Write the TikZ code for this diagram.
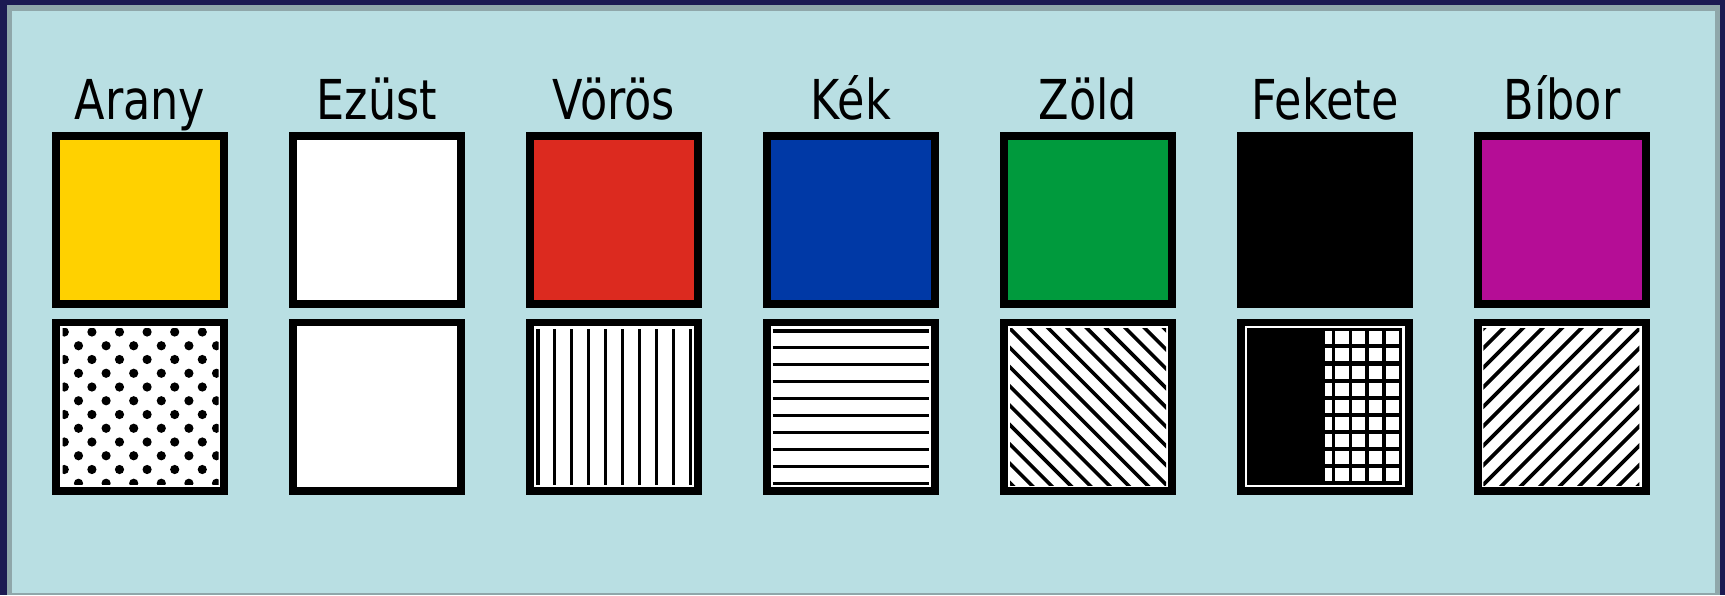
\documentclass[tikz,border=0pt]{standalone}
\usepackage{fontspec}
\newfontfamily\lblfont[FakeStretch=0.81]{DejaVu Sans}
\definecolor{framedark}{HTML}{1C1A52}
\definecolor{framegray}{HTML}{8FA7AA}
\definecolor{bgblue}{HTML}{B9DFE3}
\definecolor{cgold}{HTML}{FFD100}
\definecolor{cred}{HTML}{DC2A1F}
\definecolor{cblue}{HTML}{0039A6}
\definecolor{cgreen}{HTML}{009A3D}
\definecolor{cpurple}{HTML}{B50D96}
\tikzset{
  swatch/.style={draw=black, line width=7.6pt, minimum width=168.4pt, minimum height=168.4pt, inner sep=0pt, outer sep=0pt},
  lbl/.style={font=\lblfont\fontsize{55}{60}\selectfont, anchor=base, inner sep=0pt, text=black},
  hatch/.style={line width=3.6pt, black},
}
\begin{document}
\begin{tikzpicture}[x=1pt,y=-1pt]
\useasboundingbox (0,0) rectangle (1725,595);
\fill[framedark] (0,0) rectangle (1725,595);
\fill[framegray] (6.5,5) rectangle (1720,595);
\fill[bgblue] (12,10.5) rectangle (1715,593);

% labels
\node[lbl] (lArany)  at (140,119)  {Arany};
\node[lbl] (lEzust)  at (377,119)  {Ezüst};
\node[lbl] (lVoros)  at (614,119)  {Vörös};
\node[lbl] (lKek)    at (851,119)  {Kék};
\node[lbl] (lZold)   at (1088,119) {Zöld};
\node[lbl] (lFekete) at (1325,119) {Fekete};
\node[lbl] (lBibor)  at (1562,119) {Bíbor};

% top row
\node[swatch, fill=cgold]   (tArany)  at (140,220)  {};
\node[swatch, fill=white]   (tEzust)  at (377,220)  {};
\node[swatch, fill=cred]    (tVoros)  at (614,220)  {};
\node[swatch, fill=cblue]   (tKek)    at (851,220)  {};
\node[swatch, fill=cgreen]  (tZold)   at (1088,220) {};
\node[swatch, fill=black]   (tFekete) at (1325,220) {};
\node[swatch, fill=cpurple] (tBibor)  at (1562,220) {};

% bottom row
\node[swatch, fill=white] (bArany)  at (140,406.5)  {};
\node[swatch, fill=white] (bEzust)  at (377,406.5)  {};
\node[swatch, fill=white] (bVoros)  at (614,406.5)  {};
\node[swatch, fill=white] (bKek)    at (851,406.5)  {};
\node[swatch, fill=white] (bZold)   at (1088,406.5) {};
\node[swatch, fill=white] (bFekete) at (1325,406.5) {};
\node[swatch, fill=white] (bBibor)  at (1562,406.5) {};

% Arany: dots
\begin{scope}[shift={(52,318)}]
  \clip (10.5,10.5) rectangle (166.5,166.5);
  \foreach \j in {0,...,11} {
    \pgfmathsetmacro\yy{14+13.75*\j}
    \pgfmathsetmacro\xo{mod(\j,2)==0 ? 12.3 : 26.5}
    \foreach \k in {0,...,5} {
      \fill[black] (\xo+27.6*\k, \yy) circle (4.6pt);
    }
  }
\end{scope}

% Voros: vertical lines
\begin{scope}[shift={(526,318)}]
  \foreach \i in {0,...,9} {
    \draw[hatch] (11.7+16.96*\i, 11.3) -- (11.7+16.96*\i, 167);
  }
\end{scope}

% Kek: horizontal lines
\begin{scope}[shift={(763,318)}]
  \foreach \i in {0,...,9} {
    \draw[hatch] (9.7, 12.7+16.96*\i) -- (166, 12.7+16.96*\i);
  }
\end{scope}

% Zold: diagonal lines (\)
\begin{scope}[shift={(1000,318)}]
  \clip (10,10.3) rectangle (166,167);
  \foreach \k in {-9,...,9} {
    \pgfmathsetmacro\cc{-0.5+19.3*\k}
    \draw[hatch] (-20, -20-\cc) -- (200, 200-\cc);
  }
\end{scope}

% Fekete: black with grid
\begin{scope}[shift={(1237,318)}]
  \fill[black] (9.5,10) rectangle (165,166.5);
  \foreach \i in {0,...,8} {
    \pgfmathsetmacro\yt{13.3+17.1*\i}
    \fill[white] (88,\yt) rectangle (94.5,\yt+13);
    \foreach \j in {0,...,3} {
      \fill[white] (98.3+16.8*\j,\yt) rectangle (111.6+16.8*\j,\yt+13);
    }
  }
\end{scope}

% Bibor: diagonal lines (/)
\begin{scope}[shift={(1474,318)}]
  \clip (9.3,10.3) rectangle (165.3,167);
  \foreach \k in {-9,...,9} {
    \pgfmathsetmacro\ss{176+19.5*\k}
    \draw[hatch] (-20, \ss+20) -- (200, \ss-200);
  }
\end{scope}
\end{tikzpicture}
\end{document}
